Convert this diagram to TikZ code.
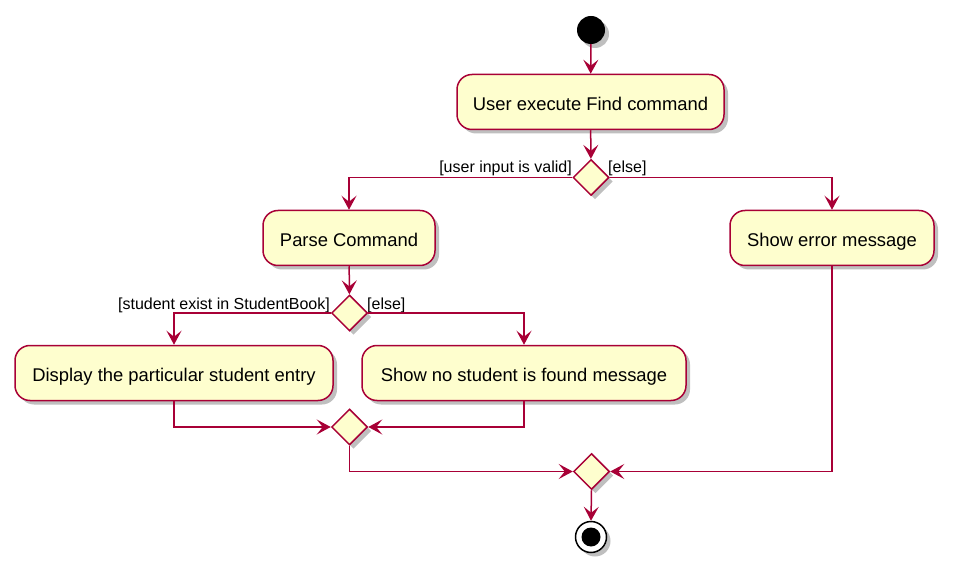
\documentclass[tikz,border=0pt]{standalone}
\usepackage{fontspec}
\setmainfont{Liberation Sans}
\usetikzlibrary{shapes.geometric,arrows.meta,shadows}
\definecolor{pborder}{HTML}{A80036}
\definecolor{pfill}{HTML}{FEFECE}
\tikzset{
  shad/.style={drop shadow={shadow xshift=4pt,shadow yshift=-4pt,fill=black,opacity=0.25}},
  act/.style={rectangle,rounded corners=15pt,draw=pborder,fill=pfill,line width=1.5pt,
    minimum height=55pt,inner sep=0pt,text height=18pt,text depth=1pt,
    font=\fontsize{18.4}{20}\selectfont,shad},
  dia/.style={diamond,draw=pborder,fill=pfill,line width=1.5pt,minimum width=36pt,
    minimum height=36pt,inner sep=0pt,shad},
  arr/.style={draw=pborder,line width=1.5pt,-{Stealth[length=14pt,width=15pt,inset=6pt]}},
  lbl/.style={inner sep=0pt,font=\fontsize{16}{18}\selectfont}
}
\begin{document}
\begin{tikzpicture}[x=1pt,y=-1pt]
\useasboundingbox (0,0) rectangle (958,577);
\node[circle,fill=black,minimum size=28pt,inner sep=0pt,shad] (start) at (591,30) {};
\node[act,minimum width=267pt] (exec) at (590.5,102) {User execute Find command};
\node[dia] (d1) at (591,177.5) {};
\node[act,minimum width=172pt] (parse) at (349,238) {Parse Command};
\node[act,minimum width=204pt] (err) at (832,238) {Show error message};
\node[dia] (d2) at (349.5,313) {};
\node[act,minimum width=318pt] (disp) at (174,373) {Display the particular student entry};
\node[act,minimum width=324pt] (nostud) at (524,373) {Show no student is found message};
\node[dia] (d3) at (349.5,427) {};
\node[dia] (d4) at (591.5,471.5) {};
\node[circle,draw=black,fill=white,line width=1.5pt,minimum size=31pt,inner sep=0pt,shad] (end) at (591,537) {};
\node[circle,fill=black,minimum size=19pt,inner sep=0pt] (endin) at (end.center) {};
\node[lbl,anchor=base east] (l1) at (572,173) {[user input is valid]};
\node[lbl,anchor=base west] (l2) at (608,173) {[else]};
\node[lbl,anchor=base east] (l3) at (330,309) {[student exist in StudentBook]};
\node[lbl,anchor=base west] (l4) at (367,309) {[else]};
\draw[arr] (start) -- (exec);
\draw[arr] (exec) -- (d1);
\draw[arr] (d1.west) -| (parse.north);
\draw[arr] (d1.east) -| (err.north);
\draw[arr] (parse) -- (d2);
\draw[arr] (d2.west) -| (disp.north);
\draw[arr] (d2.east) -| (nostud.north);
\draw[arr] (disp.south) |- (d3.west);
\draw[arr] (nostud.south) |- (d3.east);
\draw[arr] (d3.south) |- (d4.west);
\draw[arr] (err.south) |- (d4.east);
\draw[arr] (d4.south) -- (end.north);
\end{tikzpicture}
\end{document}
